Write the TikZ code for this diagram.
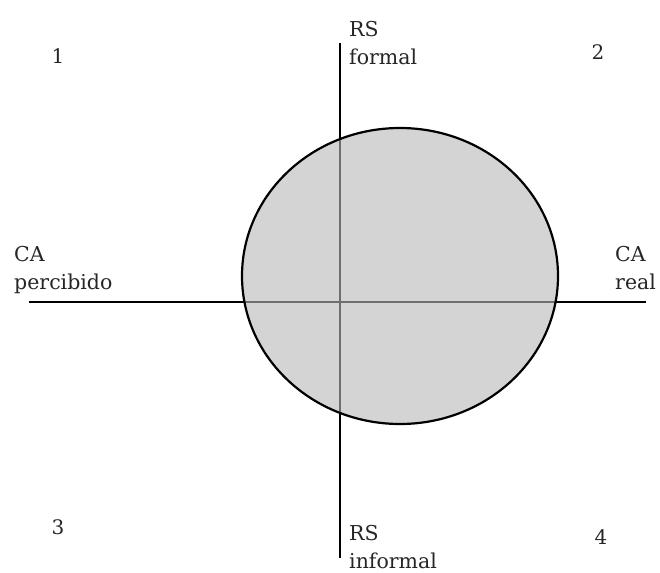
\documentclass[tikz,border=0pt]{standalone}
\usepackage{fontspec}
\setmainfont{DejaVu Serif}
\usetikzlibrary{positioning}
\tikzset{
  axis/.style={line width=2.4pt, black},
  blob/.style={draw, line width=2.2pt, fill=black!28, fill opacity=0.6},
  lbl/.style={font=\fontsize{20.5}{28}\selectfont, align=left, anchor=base west, inner sep=0pt, text=black!85},
  num/.style={font=\fontsize{20}{22}\selectfont, anchor=base, inner sep=0pt, text=black!85}}

\begin{document}
\begin{tikzpicture}[x=1pt, y=-1pt]
  \useasboundingbox (0,0) rectangle (660,572);
  % axis ends
  \coordinate (top) at (340,43);
  \coordinate (bot) at (340,558);
  \coordinate (left) at (29,302);
  \coordinate (right) at (646,302);
  \draw[axis] (top) -- (bot);
  \draw[axis] (left) -- (right);
  % circle over the axes
  \draw[blob] (400,276) ellipse [x radius=158, y radius=148];
  % axis labels (anchored at the last line)
  \node[lbl] (rsf) at (349,65) {RS\\formal};
  \node[lbl] (rsi) at (349,568) {RS\\informal};
  \node[lbl] (cap) at (14,289) {CA\\percibido};
  \node[lbl] (car) at (615,289) {CA\\real};
  % quadrant numbers
  \node[num] (q1) at (58,64) {1};
  \node[num] (q2) at (598,60) {2};
  \node[num] (q3) at (58,534) {3};
  \node[num] (q4) at (601,544) {4};
\end{tikzpicture}
\end{document}
